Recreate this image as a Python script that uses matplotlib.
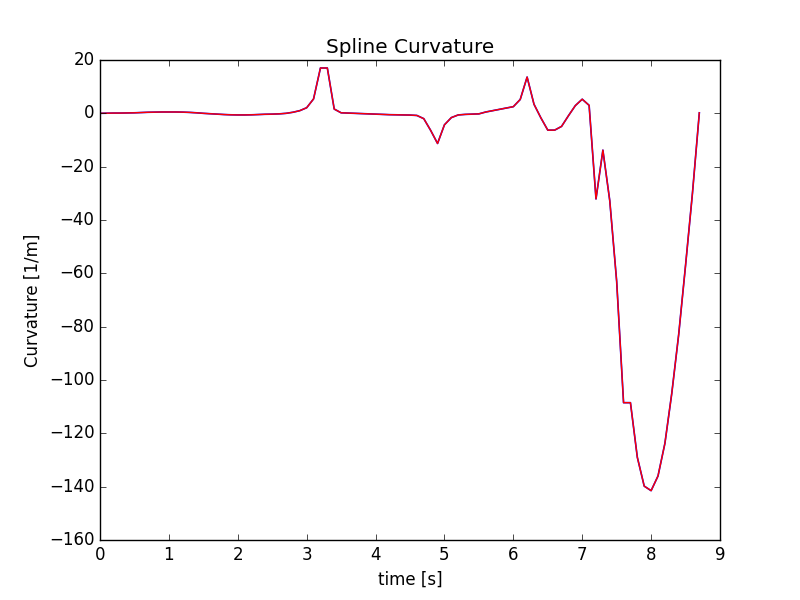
import matplotlib
matplotlib.use("Agg")
import matplotlib.pyplot as plt
import numpy as np

plt.style.use('classic')

time_s = [round(0.1 * i, 1) for i in range(88)]
curvature = [
    0.0, 0.05, 0.1, 0.1, 0.15, 0.2, 0.3, 0.4, 0.45, 0.5,
    0.5, 0.5, 0.45, 0.35, 0.2, 0.0, -0.15, -0.3, -0.45, -0.55,
    -0.6, -0.6, -0.55, -0.45, -0.35, -0.3, -0.2, 0.0, 0.4, 1.0,
    2.1, 5.4, 17.0, 17.0, 1.6, 0.2, 0.1, 0.0, -0.1, -0.2,
    -0.3, -0.4, -0.5, -0.55, -0.6, -0.65, -0.8, -2.0, -6.4, -11.3,
    -4.3, -1.6, -0.6, -0.4, -0.3, -0.2, 0.5, 1.0, 1.5, 2.0,
    2.5, 5.2, 13.6, 3.4, -1.7, -6.3, -6.3, -4.9, -0.9, 2.9,
    5.3, 3.0, -32.1, -13.8, -32.8, -63.0, -108.5, -108.5, -129.0, -139.8,
    -141.5, -136.0, -123.8, -105.0, -83.0, -57.0, -30.0, 0.2,
]

fig = plt.figure(figsize=(8, 6), dpi=100)
ax = fig.add_subplot(111)
ax.plot(time_s, curvature, color='b', linewidth=1.2)
ax.plot(time_s, curvature, color='r', linewidth=1.0)
ax.set_xlim(0, 9)
ax.set_ylim(-160, 20)
ax.set_title("Spline Curvature")
ax.set_xlabel("time [s]")
ax.set_ylabel("Curvature [1/m]")
fig.savefig("out.png", dpi=100)
